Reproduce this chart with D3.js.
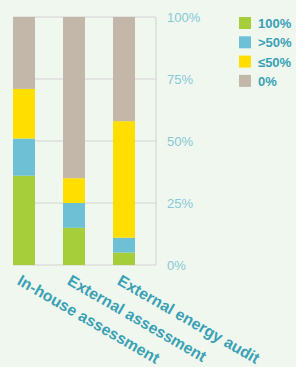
<!DOCTYPE html>
<html>
<head>
<meta charset="utf-8">
<script src="https://cdn.jsdelivr.net/npm/d3@7"></script>
<style>
  body { margin: 0; background: #f0f7ef; }
  svg { display: block; font-family: "Liberation Sans", Arial, sans-serif; }
</style>
</head>
<body>
<div id="chart"></div>
<script>
// data
var categories = ["In-house assessment", "External assessment", "External energy audit"];
var seriesNames = ["100%", ">50%", "\u226450%", "0%"];
var full = [36, 15, 5];
var overHalf = [15, 10, 6];
var underHalf = [20, 10, 47];
var none = [29, 65, 42];
var yTicks = [0, 25, 50, 75, 100];
var colors = ["#a6cd3a", "#6ec0d4", "#ffde00", "#c3b7a9"];

var width = 296, height = 367;
var plotLeft = 13, plotRight = 156, plotTop = 17, plotBottom = 265;

var svg = d3.select("#chart").append("svg")
  .attr("width", width)
  .attr("height", height);

var rows = categories.map(function(c, i) {
  return { cat: c, "100%": full[i], ">50%": overHalf[i], "\u226450%": underHalf[i], "0%": none[i] };
});
var stacked = d3.stack().keys(seriesNames)(rows);

var x = d3.scaleBand()
  .domain(categories)
  .range([0, 148])
  .paddingInner(0.56)
  .paddingOuter(0.26);
var y = d3.scaleLinear().domain([0, 100]).range([plotBottom, plotTop]);

// grid
svg.append("g").selectAll("line")
  .data(yTicks)
  .enter().append("line")
  .attr("x1", plotLeft)
  .attr("x2", plotRight)
  .attr("y1", function(d) { return y(d); })
  .attr("y2", function(d) { return y(d); })
  .attr("stroke", "#dcdedb")
  .attr("stroke-width", 1.6);
svg.append("line")
  .attr("x1", plotRight).attr("x2", plotRight)
  .attr("y1", y(100)).attr("y2", y(0))
  .attr("stroke", "#dcdedb")
  .attr("stroke-width", 1.6);

// bars
svg.append("g").selectAll("g")
  .data(stacked)
  .enter().append("g")
  .attr("fill", function(d, i) { return colors[i]; })
  .selectAll("rect")
  .data(function(d) { return d; })
  .enter().append("rect")
  .attr("x", function(d) { return x(d.data.cat); })
  .attr("width", x.bandwidth())
  .attr("y", function(d) { return y(d[1]); })
  .attr("height", function(d) { return y(d[0]) - y(d[1]); });

// y axis labels on right
svg.append("g").selectAll("text")
  .data(yTicks)
  .enter().append("text")
  .attr("x", 167)
  .attr("y", function(d) { return y(d) + 4.5; })
  .attr("fill", "#86c8d6")
  .attr("font-size", 13)
  .text(function(d) { return d + "%"; });

// x labels
svg.append("g").selectAll("text")
  .data(categories)
  .enter().append("text")
  .attr("transform", function(d) {
    return "translate(" + (x(d) + 9) + ",274) rotate(30)";
  })
  .attr("dy", "0.72em")
  .attr("fill", "#3aa1b5")
  .attr("font-size", 15.8)
  .attr("font-weight", "bold")
  .text(function(d) { return d; });

// legend
var legend = svg.append("g").attr("transform", "translate(239,17)");
var item = legend.selectAll("g")
  .data(seriesNames)
  .enter().append("g")
  .attr("transform", function(d, i) { return "translate(0," + (i * 19.3) + ")"; });
item.append("rect")
  .attr("width", 12)
  .attr("height", 12)
  .attr("fill", function(d, i) { return colors[i]; });
item.append("text")
  .attr("x", 19)
  .attr("y", 11)
  .attr("fill", "#3aa1b5")
  .attr("font-size", 13)
  .attr("font-weight", "bold")
  .text(function(d) { return d; });
</script>
</body>
</html>
